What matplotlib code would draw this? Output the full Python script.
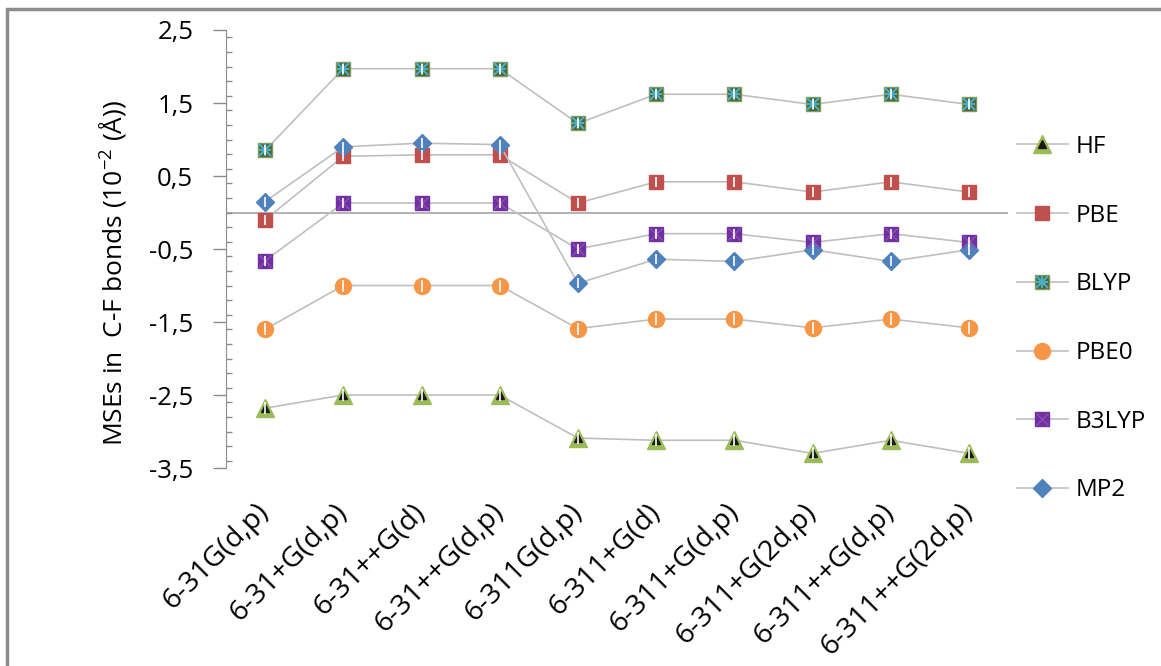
import matplotlib.pyplot as plt
from matplotlib.lines import Line2D
from matplotlib.patches import Rectangle
from matplotlib.ticker import MultipleLocator, FuncFormatter

plt.rcParams['font.family'] = ['Open Sans', 'DejaVu Sans']
plt.rcParams['mathtext.fontset'] = 'custom'
plt.rcParams['mathtext.rm'] = 'Open Sans'

# Basis sets on the x axis
basis_sets = ["6-31G(d,p)", "6-31+G(d,p)", "6-31++G(d)", "6-31++G(d,p)",
              "6-311G(d,p)", "6-311+G(d)", "6-311+G(d,p)", "6-311+G(2d,p)",
              "6-311++G(d,p)", "6-311++G(2d,p)"]

# Mean signed errors in C-F bond lengths (10^-2 Å)
hf = [-2.68, -2.50, -2.50, -2.50, -3.09, -3.12, -3.12, -3.30, -3.12, -3.30]
pbe = [-0.10, 0.77, 0.79, 0.79, 0.13, 0.42, 0.42, 0.28, 0.42, 0.28]
blyp = [0.85, 1.97, 1.97, 1.97, 1.22, 1.62, 1.62, 1.48, 1.62, 1.48]
pbe0 = [-1.60, -1.00, -1.00, -1.00, -1.59, -1.46, -1.46, -1.58, -1.46, -1.58]
b3lyp = [-0.66, 0.13, 0.13, 0.13, -0.50, -0.29, -0.29, -0.41, -0.29, -0.41]
mp2 = [0.15, 0.90, 0.95, 0.93, -0.97, -0.64, -0.67, -0.51, -0.67, -0.51]

line_col = "#BFBFBF"
fs = 17.5
x = list(range(len(basis_sets)))

fig = plt.figure(figsize=(11.61, 6.66), dpi=100)
ax = fig.add_axes([226 / 1161, 1 - 468 / 666, 782 / 1161, 438 / 666])

# outer chart frame (only top and left edges fall inside the image)
fig.patches.append(Rectangle((7 / 1161, -0.1), 1.2, 1 - 9 / 666 + 0.1,
                             transform=fig.transFigure, fill=False,
                             edgecolor="#8C8C8C", lw=2.5, zorder=0))

ax.axhline(0, color="#A6A6A6", lw=1.2, zorder=1)


def series(vals, face, edge, marker, ms, overlays=()):
    parts = []
    ax.plot(x, vals, color=line_col, lw=1.2, marker=marker, ms=ms,
            mfc=face, mec=edge, mew=1.0, zorder=3)
    parts.append(Line2D([], [], color=line_col, lw=1.2, marker=marker, ms=ms,
                        mfc=face, mec=edge, mew=1.0))
    for m, c, s, w in overlays:
        ax.plot(x, vals, ls="none", marker=m, ms=s, mfc=c, mec=c, mew=w, zorder=4)
        parts.append(Line2D([], [], ls="none", marker=m, ms=s, mfc=c, mec=c, mew=w))
    # thin white bar through each marker
    ax.plot(x, vals, ls="none", marker="|", ms=ms * 0.7, mec="white", mew=1.4,
            alpha=0.85, zorder=5)
    return tuple(parts)


h_hf = series(hf, "#9BBB59", "#9BBB59", "^", 12.5, [("^", "#1A1A1A", 6, 1)])
h_pbe = series(pbe, "#C0504D", "#C0504D", "s", 10.5)
h_blyp = series(blyp, "#4F6228", "#7F9A5A", "s", 10.5,
                [("x", "#4BACC6", 8, 1.6), ("+", "#4BACC6", 9, 1.6)])
h_pbe0 = series(pbe0, "#F79646", "#F79646", "o", 11.5)
h_b3lyp = series(b3lyp, "#7030A0", "#7030A0", "s", 10.5, [("x", "#8A4FB8", 8, 1.0)])
h_mp2 = series(mp2, "#4F81BD", "#4F81BD", "D", 9.5)

ax.set_xlim(-0.5, len(basis_sets) - 0.5)
ax.set_ylim(-3.5, 2.5)
ax.set_yticks([-3.5, -2.5, -1.5, -0.5, 0.5, 1.5, 2.5])
ax.yaxis.set_minor_locator(MultipleLocator(0.2))
ax.yaxis.set_major_formatter(FuncFormatter(lambda v, p: f"{v:.1f}".replace(".", ",")))
ax.tick_params(axis="y", which="major", direction="out", length=9.5, width=1,
               color="#8C8C8C", labelsize=18.5, pad=14)
ax.tick_params(axis="y", which="minor", direction="in", length=4, width=1,
               color="#8C8C8C")

ax.set_xticks(x)
ax.set_xticklabels(basis_sets, rotation=45, ha="right", va="center",
                   rotation_mode="anchor", fontsize=20.5)
ax.tick_params(axis="x", length=0, pad=29)

for s in ["top", "right", "bottom"]:
    ax.spines[s].set_visible(False)
ax.spines["left"].set_color("#8C8C8C")

fig.text(113 / 1161, 1 - 273 / 666, r"MSEs in  C-F bonds (10$^{-2}$ (Å))",
         rotation=90, ha="center", va="center", fontsize=19)

fig.legend([h_hf, h_pbe, h_blyp, h_pbe0, h_b3lyp, h_mp2],
           ["HF", "PBE", "BLYP", "PBE0", "B3LYP", "MP2"],
           loc="upper left", bbox_to_anchor=(995 / 1161, 1 - 113 / 666),
           frameon=False, fontsize=fs, labelspacing=1.84,
           handlelength=2.1, handletextpad=0.33)

fig.savefig("out.png", dpi=100)
